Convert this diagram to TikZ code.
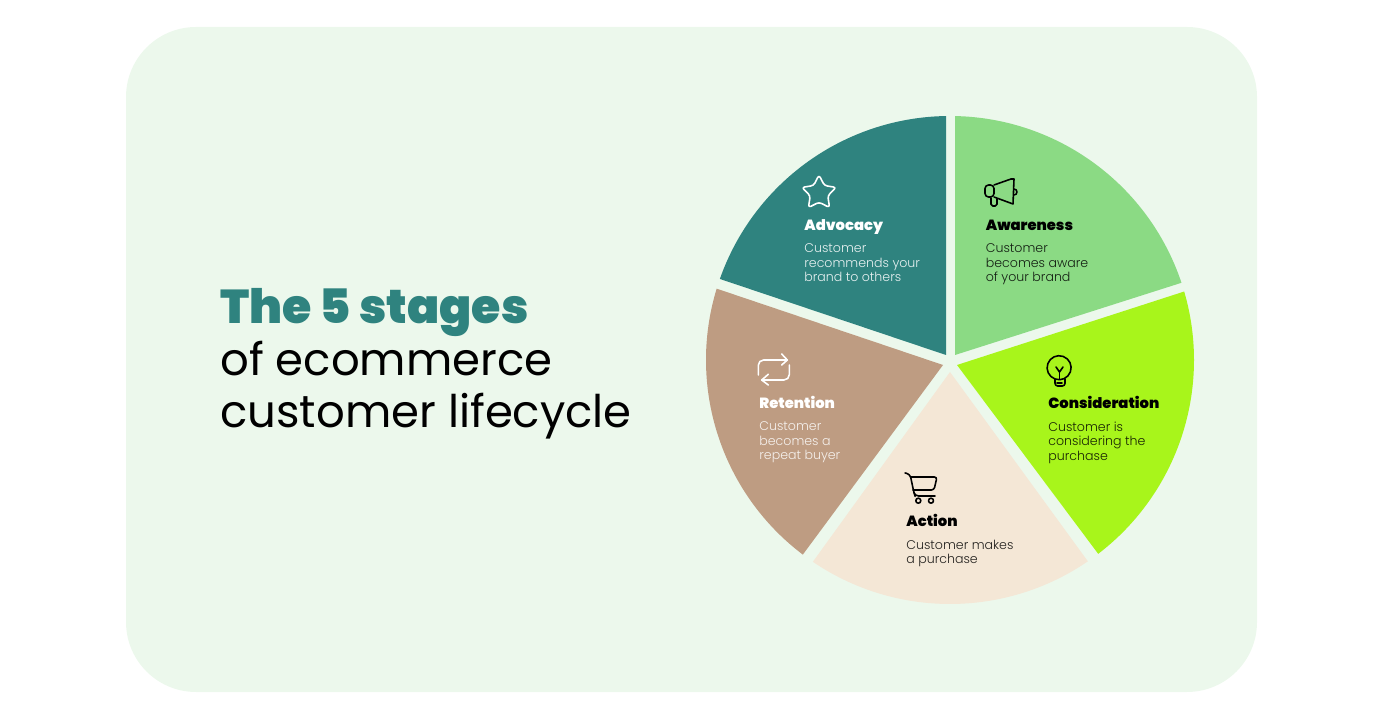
\documentclass[tikz,border=0pt]{standalone}
\usepackage{fontspec}
\usetikzlibrary{shapes.geometric}
\setmainfont{Poppins}
\newfontfamily\heavyfont{Poppins Black}
\newfontfamily\bookfont{Poppins Light}
\definecolor{panelgreen}{HTML}{ECF8EC}
\definecolor{tealwedge}{HTML}{2F837F}
\definecolor{greenwedge}{HTML}{8BDA84}
\definecolor{limewedge}{HTML}{A8F51B}
\definecolor{creamwedge}{HTML}{F4E7D6}
\definecolor{brownwedge}{HTML}{BE9C82}
\tikzset{
  headline/.style={anchor=base west, inner sep=0, font=\fontsize{25.6}{30}\selectfont},
  stagetitle/.style={anchor=base west, inner sep=0, font=\heavyfont\fontsize{8.4}{10}\selectfont},
  stagetext/.style={anchor=north west, inner sep=0, align=left, font=\bookfont\fontsize{7.17}{8.25}\selectfont},
  icon/.style={line width=.9pt, line join=round, line cap=round},
}
\begin{document}
\begin{tikzpicture}[x=.02cm, y=.02cm]
\useasboundingbox (0,0) rectangle (1382,720);
\fill[panelgreen, rounded corners=1.4cm] (126,28) rectangle (1257,693);
\coordinate (hub) at (950,360);

% wedges
\fill[tealwedge] (946,365) -- ([shift={(160.6:244)}]hub) arc[start angle=160.6, end angle=90.9, radius=244] -- cycle;
\fill[greenwedge] (955,365) -- ([shift={(88.8:244)}]hub) arc[start angle=88.8, end angle=18.45, radius=244] -- cycle;
\fill[limewedge] (957,355) -- ([shift={(16.3:244)}]hub) arc[start angle=16.3, end angle=-52.6, radius=244] -- cycle;
\fill[creamwedge] (950,348) -- ([shift={(-55.6:244)}]hub) arc[start angle=-55.6, end angle=-124.2, radius=244] -- cycle;
\fill[brownwedge] (943,355) -- ([shift={(232.9:244)}]hub) arc[start angle=232.9, end angle=163, radius=244] -- cycle;

% headline
\node[headline, tealwedge, font=\heavyfont\fontsize{27}{30}\selectfont] (line1) at (220,396) {The 5 stages};
\node[headline] (line2) at (220,344) {of ecommerce};
\node[headline] (line3) at (220,292.5) {customer lifecycle};

% labels
\node[stagetitle, white] (advocacy) at (804,489.5) {Advocacy};
\node[stagetext, white!88!tealwedge] (advocacytext) at (804,476.5) {Customer\\recommends your\\brand to others};
\node[stagetitle] (awareness) at (985.5,489.5) {Awareness};
\node[stagetext, black!85!greenwedge] (awarenesstext) at (985.5,476.5) {Customer\\becomes aware\\of your brand};
\node[stagetitle] (consideration) at (1048,311) {Consideration};
\node[stagetext, black!85!limewedge] (considerationtext) at (1048,298.5) {Customer is\\considering the\\purchase};
\node[stagetitle] (action) at (906,193) {Action};
\node[stagetext, black!85!creamwedge] (actiontext) at (906,180.5) {Customer makes\\a purchase};
\node[stagetitle, white] (retention) at (759,311) {Retention};
\node[stagetext, white!85!brownwedge] (retentiontext) at (759,298.5) {Customer\\becomes a\\repeat buyer};

% star
\node[star, star points=5, star point ratio=1.95, draw=white, icon, rounded corners=1.5pt, minimum size=.72cm, inner sep=0] (staricon) at (819,527) {};

% megaphone
\draw[icon] (994,535) -- (1011,541) -- (1014,541) -- (1013,516) -- (994,523);
\draw[icon, rounded corners=2pt] (994,535) -- (985,535) -- (985,523) -- (994,523) -- cycle;
\draw[icon, rounded corners=1pt] (991,522) -- (991,514) -- (997,514) -- (997,521);
\draw[icon] (1014,531) arc[start angle=90, end angle=-90, radius=3];

% bulb
\draw[icon] (1055,341) arc[start angle=-110, end angle=250, radius=12];
\draw[icon, rounded corners=1.5pt] (1055,341) -- (1055,334) -- (1065,334) -- (1065,341);
\draw[icon] (1057,337) -- (1062,337);
\draw[icon] (1056,353) -- (1059.5,348) -- (1063,353);
\draw[icon] (1059.5,348) -- (1059.5,341);

% cart
\draw[icon, rounded corners=2pt] (905,247) -- (910,246) -- (914,227) -- (915,224) -- (935,224);
\draw[icon, rounded corners=1.5pt] (911,243) -- (937,243) -- (934,230) -- (913,230);
\draw[icon] (918.3,219.3) circle[radius=2.5];
\draw[icon] (931,219.3) circle[radius=2.5];

% repeat
\draw[icon, white, rounded corners=3pt] (758.3,345) -- (758.3,360) -- (787.3,360);
\draw[icon, white] (781.7,366) -- (787.3,360) -- (781.7,355);
\draw[icon, white, rounded corners=3pt] (789.3,355) -- (789.3,340) -- (761.7,340);
\draw[icon, white] (768.3,345.7) -- (761.7,340) -- (768.3,335);
\end{tikzpicture}
\end{document}
